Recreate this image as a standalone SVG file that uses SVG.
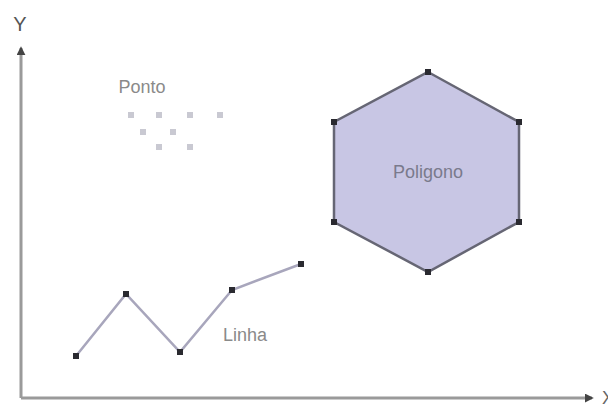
<svg xmlns="http://www.w3.org/2000/svg" width="608" height="406" viewBox="0 0 608 406">
<style>
.lbl{font-family:"Liberation Sans",Arial,sans-serif;fill:#8a8a8a}
.axis{stroke:#9a9a9a;stroke-width:3;fill:none}
.seg{stroke:#a8a6bc;stroke-width:2.5;fill:none}
.v{fill:#2a2a30}
.pt{fill:#c9c9d2}
</style>
<defs>
<marker id="ah" viewBox="0 0 10 10" refX="8" refY="5" markerWidth="3" markerHeight="3" orient="auto">
<path d="M0,0 L10,5 L0,10 z" fill="#444"/>
</marker>
</defs>
<rect width="608" height="406" fill="#fff"/>
<g id="connectors">
<line class="axis" x1="21" y1="398" x2="21" y2="48" marker-end="url(#ah)"/>
<line class="axis" x1="21" y1="398" x2="592" y2="398" marker-end="url(#ah)"/>
</g>
<g id="axis-y-label"><text class="lbl" x="20" y="31" font-size="20" text-anchor="middle" style="fill:#555">Y</text></g>
<g id="axis-x-label"><text class="lbl" x="602" y="404" font-size="18" style="fill:#666">X</text></g>
<g id="ponto">
<text class="lbl" x="142" y="93" font-size="18" text-anchor="middle">Ponto</text>
<rect class="pt" x="128" y="112" width="6" height="6"/>
<rect class="pt" x="156" y="112" width="6" height="6"/>
<rect class="pt" x="187" y="112" width="6" height="6"/>
<rect class="pt" x="217" y="112" width="6" height="6"/>
<rect class="pt" x="140" y="129" width="6" height="6"/>
<rect class="pt" x="170" y="129" width="6" height="6"/>
<rect class="pt" x="156" y="144" width="6" height="6"/>
<rect class="pt" x="187" y="144" width="6" height="6"/>
</g>
<g id="linha">
<polyline class="seg" points="76,356 126,294 180,352 232,290 301,264"/>
<rect class="v" x="73" y="353" width="6" height="6"/>
<rect class="v" x="123" y="291" width="6" height="6"/>
<rect class="v" x="177" y="349" width="6" height="6"/>
<rect class="v" x="229" y="287" width="6" height="6"/>
<rect class="v" x="298" y="261" width="6" height="6"/>
<text class="lbl" x="245" y="341" font-size="18" text-anchor="middle">Linha</text>
</g>
<g id="poligono">
<polygon points="428,72 519,122 519,222 428,272 334,222 334,122" fill="#c8c6e4" stroke="#666674" stroke-width="2.5"/>
<rect class="v" x="425" y="69" width="6" height="6"/>
<rect class="v" x="516" y="119" width="6" height="6"/>
<rect class="v" x="516" y="219" width="6" height="6"/>
<rect class="v" x="425" y="269" width="6" height="6"/>
<rect class="v" x="331" y="219" width="6" height="6"/>
<rect class="v" x="331" y="119" width="6" height="6"/>
<text class="lbl" x="428" y="178" font-size="18" text-anchor="middle" style="fill:#7a7a8c">Poligono</text>
</g>
</svg>
